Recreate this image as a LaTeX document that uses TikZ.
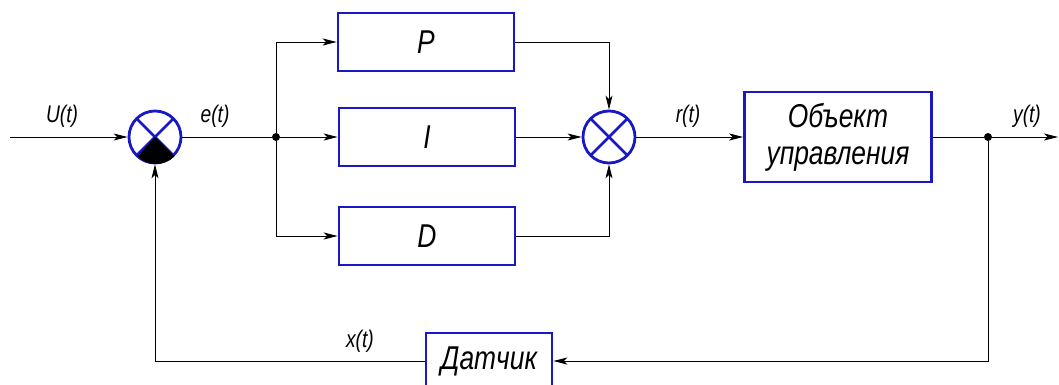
\documentclass[tikz,border=0pt]{standalone}
\usepackage{fontspec}
\setmainfont{Liberation Sans}
\newfontfamily\gost{Liberation Sans}[FakeStretch=0.8]
\usetikzlibrary{arrows.meta}
\definecolor{bblue}{RGB}{25,25,195}
\begin{document}
\begin{tikzpicture}[x=1pt,y=-1pt,
  blk/.style={draw=bblue, line width=2.6pt, minimum width=176pt, minimum height=58pt, inner sep=0pt, align=center, font=\gost\fontsize{33}{37}\selectfont\itshape},
  sum/.style={circle, draw=bblue, line width=2.8pt, minimum size=52pt, inner sep=0pt,
    path picture={\draw[bblue, line width=2.8pt] (path picture bounding box.south west) -- (path picture bounding box.north east)
      (path picture bounding box.north west) -- (path picture bounding box.south east);}},
  ln/.style={line width=0.9pt},
  arr/.style={ln, -{Stealth[length=14pt,width=7pt,inset=3.5pt]}},
  dot/.style={circle, fill, inner sep=0pt, minimum size=8pt},
  lbl/.style={font=\gost\fontsize{24}{26}\selectfont\itshape}]
\useasboundingbox (0,0) rectangle (1059,385);
% nodes
\coordinate (in) at (10,137);
\node[sum] (s1) at (155,137) {};
\node[dot] (j1) at (276,137) {};
\node[blk] (P) at (426,42) {P};
\node[blk] (I) at (427,137) {I};
\node[blk] (D) at (427,236) {D};
\node[sum] (s2) at (609,137) {};
\node[blk, minimum width=187pt, minimum height=90pt] (obj) at (838,137) {Объект\\управления};
\node[dot] (j2) at (988,137) {};
\coordinate (out) at (1058,137);
\node[blk, minimum width=126pt, minimum height=56pt] (dat) at (489,361) {Датчик};
% filled sector
\fill (s1.center) -- (s1.-45) arc[start angle=-45, end angle=-135, radius=26pt] -- cycle;
% connectors
\draw[arr] (in) -- (s1);
\draw[ln] (s1) -- (j1);
\draw[arr] (j1) -- (I);
\draw[arr] (j1) |- (P);
\draw[arr] (j1) |- (D);
\draw[arr] (P) -| (s2);
\draw[arr] (I) -- (s2);
\draw[arr] (D) -| (s2);
\draw[arr] (s2) -- (obj);
\draw[ln] (obj) -- (j2);
\draw[arr] (j2) -- (out);
\draw[arr] (j2) |- (dat);
\draw[arr] (dat) -| (s1);
% labels
\node[lbl] (lU) at (62,116) {U(t)};
\node[lbl] (le) at (215,116) {e(t)};
\node[lbl] (lr) at (688,116) {r(t)};
\node[lbl] (ly) at (1027,116) {y(t)};
\node[lbl] (lx) at (360,341) {x(t)};
\end{tikzpicture}
\end{document}
